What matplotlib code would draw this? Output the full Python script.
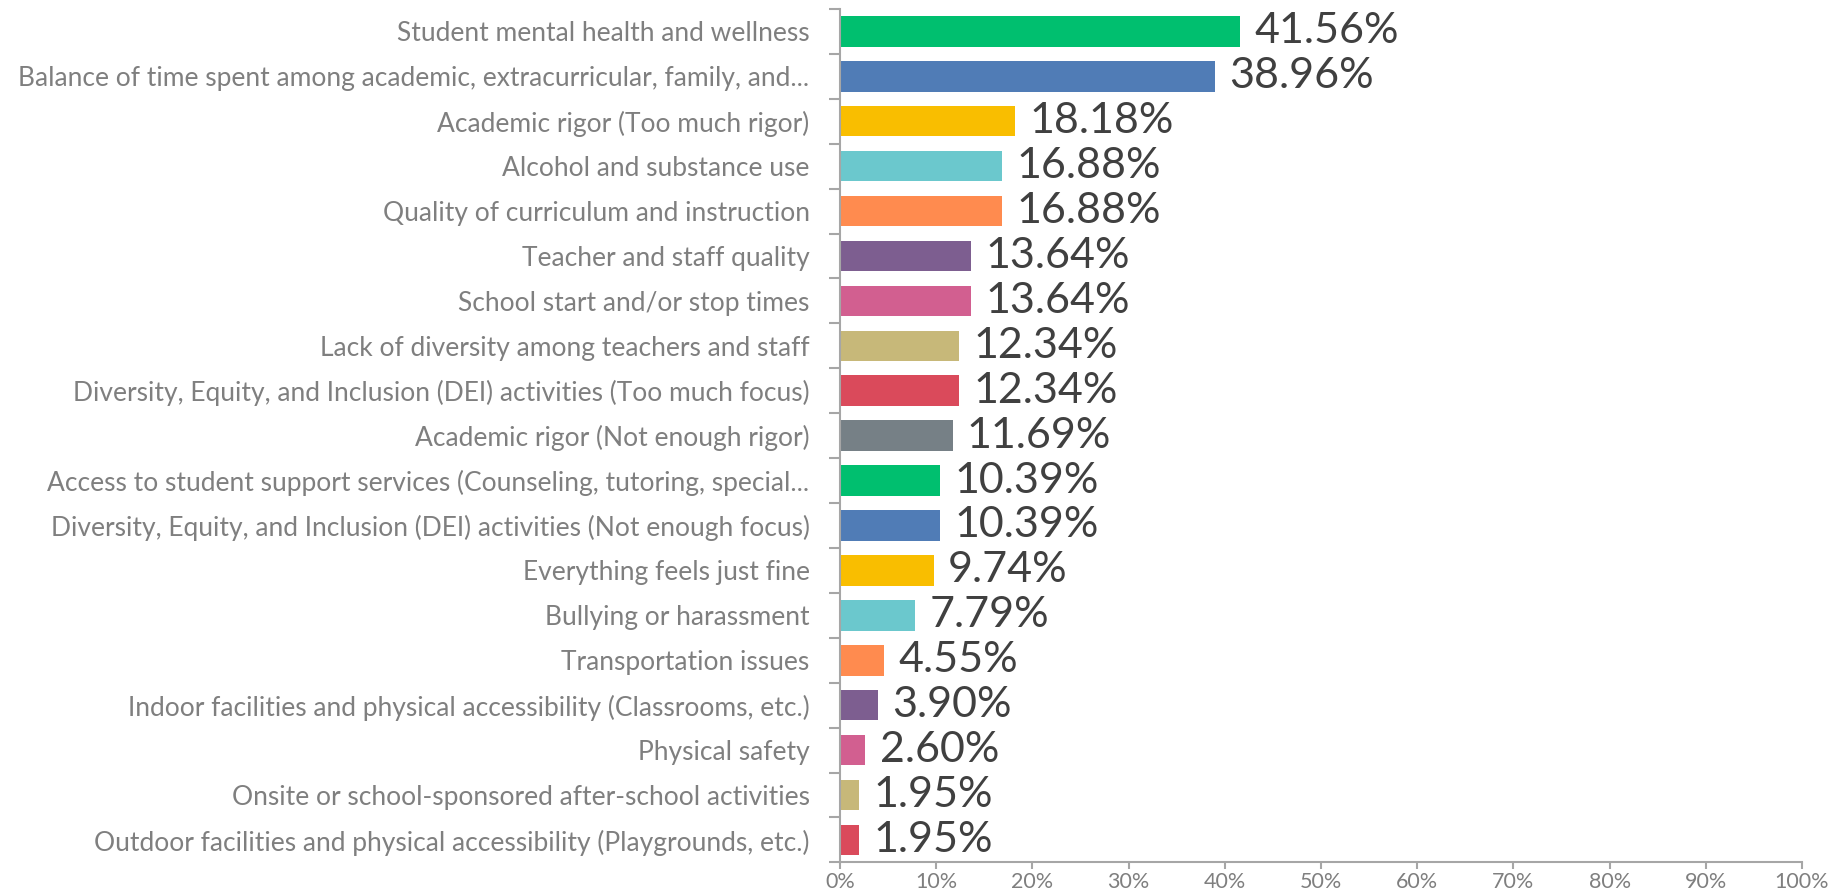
import numpy as np
import matplotlib
matplotlib.use("Agg")
import matplotlib.pyplot as plt
from matplotlib.ticker import FixedLocator, PercentFormatter

categories = [
    "Student mental health and wellness",
    "Balance of time spent among academic, extracurricular, family, and...",
    "Academic rigor (Too much rigor)",
    "Alcohol and substance use",
    "Quality of curriculum and instruction",
    "Teacher and staff quality",
    "School start and/or stop times",
    "Lack of diversity among teachers and staff",
    "Diversity, Equity, and Inclusion (DEI) activities (Too much focus)",
    "Academic rigor (Not enough rigor)",
    "Access to student support services (Counseling, tutoring, special...",
    "Diversity, Equity, and Inclusion (DEI) activities (Not enough focus)",
    "Everything feels just fine",
    "Bullying or harassment",
    "Transportation issues",
    "Indoor facilities and physical accessibility (Classrooms, etc.)",
    "Physical safety",
    "Onsite or school-sponsored after-school activities",
    "Outdoor facilities and physical accessibility (Playgrounds, etc.)",
]
values = [41.56, 38.96, 18.18, 16.88, 16.88, 13.64, 13.64, 12.34, 12.34, 11.69,
          10.39, 10.39, 9.74, 7.79, 4.55, 3.90, 2.60, 1.95, 1.95]
palette = ["#00BF6F", "#507CB6", "#F9BE00", "#6BC8CD", "#FF8B4F",
           "#7D5E90", "#D25F90", "#C7B879", "#DA4A5B", "#768086"]

plt.rcParams['font.family'] = ['Lato', 'DejaVu Sans']

fig = plt.figure(figsize=(18.35, 8.9), dpi=100)
ax = fig.add_axes([0.4578, 0.031, 0.5242, 0.959])

y = np.arange(len(categories))
colors = [palette[i % len(palette)] for i in range(len(categories))]
ax.barh(y, values, height=0.68, color=colors)

for yi, v in zip(y, values):
    ax.text(v + 1.5, yi, f"{v:.2f}%", va="center", ha="left",
            fontsize=31, color="#404040")

ax.set_ylim(len(categories) - 0.5, -0.5)
ax.set_xlim(0, 100)
ax.set_yticks(y)
ax.set_yticklabels(categories, fontsize=19, color="#7F7F7F")
ax.tick_params(axis="y", which="major", length=0, pad=22)
ax.yaxis.set_minor_locator(FixedLocator(np.arange(-0.5, len(categories), 1)))
ax.tick_params(axis="y", which="minor", length=8, color="#A6A6A6", width=1.5)

ax.set_xticks(np.arange(0, 101, 10))
ax.xaxis.set_major_formatter(PercentFormatter(decimals=0))
ax.tick_params(axis="x", length=5, color="#A6A6A6", width=1.5,
               labelsize=15.5, labelcolor="#7F7F7F", pad=2)

for s in ["top", "right"]:
    ax.spines[s].set_visible(False)
for s in ["left", "bottom"]:
    ax.spines[s].set_color("#A6A6A6")
    ax.spines[s].set_linewidth(1.5)

fig.savefig("out.png", dpi=100)
